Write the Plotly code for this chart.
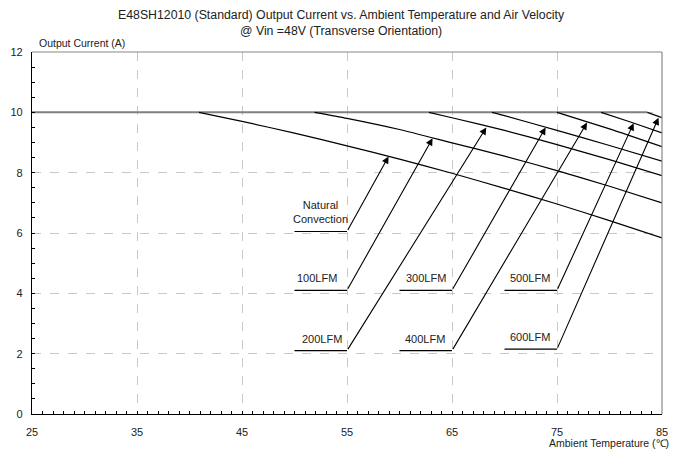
import plotly.graph_objects as go

# ---- data ----
title_line1 = "E48SH12010 (Standard) Output Current vs. Ambient Temperature and Air Velocity"
title_line2 = "@ Vin =48V (Transverse Orientation)"
y_title = "Output Current (A)"
x_title = "Ambient Temperature (℃)"

x_ticks = [25, 35, 45, 55, 65, 75, 85]
y_ticks = [0, 2, 4, 6, 8, 10, 12]

flat_x = [25, 83.6]
flat_y = [10, 10]

nc_x = [40.9, 45, 50, 55, 60, 65, 70, 75, 80, 85]
nc_y = [10.0, 9.70, 9.31, 8.89, 8.45, 7.98, 7.48, 6.96, 6.41, 5.84]

lfm100_x = [51.9, 55, 60, 65, 70, 75, 80, 85]
lfm100_y = [10.0, 9.80, 9.43, 8.99, 8.55, 8.07, 7.55, 7.00]

lfm200_x = [62.8, 65, 70, 75, 80, 85]
lfm200_y = [10.0, 9.82, 9.40, 8.93, 8.43, 7.90]

lfm300_x = [68.8, 70, 75, 80, 85]
lfm300_y = [10.0, 9.89, 9.40, 8.90, 8.38]

lfm400_x = [75.0, 80, 85]
lfm400_y = [10.0, 9.45, 8.86]

lfm500_x = [79.2, 82, 85]
lfm500_y = [10.0, 9.68, 9.32]

lfm600_x = [83.6, 85]
lfm600_y = [10.0, 9.82]

label_text = ["Natural<br>Convection", "100LFM", "200LFM", "300LFM", "400LFM", "500LFM", "600LFM"]
label_line_x0 = [50, 50, 50, 60, 60, 70, 70]
label_elbow_x = [55, 55, 55, 65, 65, 75, 75]
label_y = [6.05, 4.1, 2.1, 4.1, 2.1, 4.1, 2.15]
label_text_x = [52.5, 52.1, 52.6, 62.5, 62.4, 72.4, 72.4]
arrow_tip_x = [58.96, 63.15, 68.27, 73.92, 77.86, 82.3, 84.67]
arrow_tip_y = [8.54, 9.14, 9.5, 9.5, 9.66, 9.64, 9.82]

FONT = "Arial, Liberation Sans, sans-serif"
TXT = "#222"

# the page draws the figure 8px from the window's top-left corner
OFF = 8
H, W = 449 - OFF, 679 - OFF
ML, MR, MT, MB = 24, 17, 44, 35
ph = H - MT - MB
pw = W - ML - MR


def py(pix):
    return (H - MB - (pix - OFF)) / ph


def px(pix):
    return ((pix - OFF) - ML) / pw


fig = go.Figure()

# flat (maximum current) part
fig.add_trace(go.Scatter(x=flat_x, y=flat_y, mode="lines",
                         line=dict(color="#808080", width=2), hoverinfo="skip", showlegend=False))

curves = [(nc_x, nc_y), (lfm100_x, lfm100_y), (lfm200_x, lfm200_y), (lfm300_x, lfm300_y),
          (lfm400_x, lfm400_y), (lfm500_x, lfm500_y), (lfm600_x, lfm600_y)]
for cx, cy in curves:
    fig.add_trace(go.Scatter(x=cx, y=cy, mode="lines",
                             line=dict(color="black", width=1.2, shape="spline", smoothing=0.6),
                             hoverinfo="skip", showlegend=False))

annotations = []
for i, txt in enumerate(label_text):
    fig.add_trace(go.Scatter(x=[label_line_x0[i], label_elbow_x[i]], y=[label_y[i], label_y[i]], mode="lines",
                             line=dict(color="black", width=1.2), hoverinfo="skip", showlegend=False))
    annotations.append(dict(x=arrow_tip_x[i], y=arrow_tip_y[i], ax=label_elbow_x[i], ay=label_y[i],
                            xref="x", yref="y", axref="x", ayref="y", text="", showarrow=True,
                            arrowhead=2, arrowsize=1.3, arrowwidth=1.1, arrowcolor="black", standoff=0))
    annotations.append(dict(x=label_text_x[i], y=label_y[i], xref="x", yref="y", text=txt, showarrow=False,
                            yanchor="bottom", yshift=4, font=dict(family=FONT, size=11, color=TXT)))

annotations += [
    dict(x=px(341), y=py(15), xref="paper", yref="paper", text=title_line1, showarrow=False,
         xanchor="center", yanchor="middle", font=dict(family=FONT, size=12.3, color=TXT)),
    dict(x=px(341), y=py(31), xref="paper", yref="paper", text=title_line2, showarrow=False,
         xanchor="center", yanchor="middle", font=dict(family=FONT, size=12.3, color=TXT)),
    dict(x=px(37), y=py(43), xref="paper", yref="paper", text=y_title, showarrow=False,
         xanchor="left", yanchor="middle", font=dict(family=FONT, size=10.5, color=TXT)),
    dict(x=px(671), y=py(443), xref="paper", yref="paper", text=x_title, showarrow=False,
         xanchor="right", yanchor="middle", font=dict(family=FONT, size=10.5, color=TXT)),
]

# top and right borders (gray)
shapes = [
    dict(type="line", xref="paper", yref="paper", x0=0, x1=1, y0=1, y1=1, line=dict(color="#888", width=1.2)),
    dict(type="line", xref="paper", yref="paper", x0=1, x1=1, y0=0, y1=1, line=dict(color="#888", width=1.2)),
]

fig.update_layout(
    width=W, height=H,
    margin=dict(l=ML, r=MR, t=MT, b=MB, pad=0, autoexpand=False),
    paper_bgcolor="white", plot_bgcolor="white",
    showlegend=False,
    annotations=annotations,
    shapes=shapes,
    font=dict(family=FONT, size=11, color=TXT),
)
fig.update_xaxes(range=[25, 85], tickvals=x_ticks, ticktext=[str(v) for v in x_ticks],
                 automargin=False,
                 showline=True, linecolor="black", linewidth=1.2,
                 ticks="inside", ticklen=3, tickcolor="black", ticklabelstandoff=8,
                 minor=dict(dtick=1, ticks="inside", ticklen=3, tickcolor="black", showgrid=False),
                 showgrid=True, gridcolor="#c8c8c8", griddash="dash", gridwidth=1,
                 zeroline=False, tickfont=dict(size=11), fixedrange=True)
fig.update_yaxes(range=[0, 12], tickvals=y_ticks, ticktext=[str(v) for v in y_ticks],
                 automargin=False,
                 showline=True, linecolor="black", linewidth=1.2,
                 ticks="inside", ticklen=3, tickcolor="black", ticklabelstandoff=6,
                 minor=dict(dtick=0.5, ticks="inside", ticklen=3, tickcolor="black", showgrid=False),
                 showgrid=True, gridcolor="#c8c8c8", griddash="dash", gridwidth=1,
                 zeroline=False, tickfont=dict(size=11), fixedrange=True)

fig.write_html("out.html")
